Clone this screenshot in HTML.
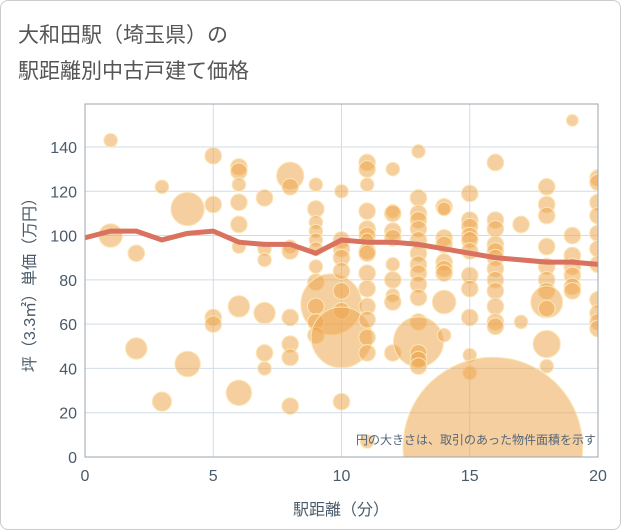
<!DOCTYPE html>
<html><head><meta charset="utf-8"><style>
html,body{margin:0;padding:0;background:#fff}
#wrap{position:relative;width:619px;height:528px;border:1px solid #ccc;border-radius:8px;overflow:hidden;font-family:"Liberation Sans","Noto Sans CJK JP",sans-serif}
</style></head><body>
<div id="wrap">
<svg id="chart" width="619" height="528" xmlns="http://www.w3.org/2000/svg">
<text x="17" y="41" font-size="21" fill="#555" font-family="Liberation Sans, Noto Sans CJK JP, sans-serif">大和田駅（埼玉県）の</text>
<text x="17" y="77" font-size="21" fill="#555" font-family="Liberation Sans, Noto Sans CJK JP, sans-serif">駅距離別中古戸建て価格</text>
<g id="grid"></g><g id="bubbles"></g><g id="trend"></g><g id="axes"></g>
<text x="595" y="443" font-size="12" fill="#556677" text-anchor="end" font-family="Liberation Sans, Noto Sans CJK JP, sans-serif">円の大きさは、取引のあった物件面積を示す</text>
<text x="340" y="514" font-size="16" fill="#4a5a6a" text-anchor="middle" font-family="Liberation Sans, Noto Sans CJK JP, sans-serif">駅距離（分）</text>
<text transform="translate(34,280) rotate(-90)" font-size="16" fill="#4a5a6a" text-anchor="middle" font-family="Liberation Sans, Noto Sans CJK JP, sans-serif">坪（3.3㎡）単価（万円）</text>
</svg></div>
<script>
const xTicks=[0,5,10,15,20];
const yTicks=[0,20,40,60,80,100,120,140];
const bubbleX=[1,1,2,2,3,3,4,4,5,5,5,5,6,6,6,6,6,6,6,6,7,7,7,7,7,7,8,8,8,8,8,8,8,8,9,9,9,9,9,9,9,9,9.6,9,9,9,10,10,10,10,10,10,10,10,10,11,
11,11,11,11,11,11,11,11,11,11,11,11,11,11,11,
12,12,12,12,12,12,12,12,12,12,
13,13,13,13,13,13,13,13,13,13,13,13,13,13,13,13,
14,14,14,14,14,14,14,14,14,
15,15,15,15,15,15,15,15,15,15,15,
16,16,16,16,16,16,16,16,16,16,16,16,15.9,
17,17,
18,18,18,18,18,18,18,18,18,18,18,
19,19,19,19,19,19,19,
20,20,20,20,20,20,20,20,20,20,20];
const bubbleY=[143,100,92,49,122,25,112,42,136,114,63,60,131,129,123,115,105,95,68,29,117,94,89,65,47,40,127,122,95,93,63,51,45,23,123,112,106,102,98,94,86,79,69,68,61,55,120,98,94,90,84,75,66,54,25,7,
133,130,123,111,103,100,98,93,83,76,68,62,54,47,92,
130,111,110,102,99,87,80,73,70,47,
138,117,110,107,103,98,92,87,83,78,72,61,52,47,44,41,
113,112,99,96,88,85,83,70,55,
119,107,104,100,98,93,82,76,63,46,38,
133,107,103,96,93,90,85,80,75,68,61,59,4.5,
105,61,
122,114,109,95,86,80,75,70,67,51,41,
152,100,91,86,82,77,75,
126,124,115,109,101,94,87,71,65,61,58];
const bubbleArea=[2,6,3,5,2,4,12,7,3,3,3,3,3,3,2,3,3,2,5,7,3,2,2,5,3,2,8,3,2,3,3,3,3,3,2,3,2,2,2,2,2,3,40,3,3,3,2,3,3,3,3,3,3,40,3,2,
3,3,2,3,3,3,2,3,3,3,3,3,3,3,3,
2,2,3,3,3,2,3,2,3,3,
2,3,3,3,3,3,3,3,3,3,3,3,27,3,3,3,
3,2,3,3,3,3,3,6,2,
3,3,3,3,3,3,3,3,3,2,2,
3,3,3,3,3,3,3,3,3,3,3,3,350,
3,2,
3,3,3,3,3,3,3,11,3,8,2,
1.5,3,3,3,3,3,3,
3,3,3,3,3,3,3,3,3,3,3];
const trendX=[0,1,2,3,4,5,6,7,8,9,10,11,12,13,14,15,16,17,18,19,20];
const trendY=[99,102,102,98,101,102,97,96,96,92,98,97,97,96,94,92,90,89,88,88,87];

const L=84,R=597,T=103,B=456;
const sx=v=>L+(v-0)/(20-0)*(R-L);
const sy=v=>B-(v-0)/(159.4-0)*(B-T);
const sr=a=>Math.sqrt(a)*4.8;
const NS="http://www.w3.org/2000/svg";
const svg=document.getElementById('chart');
const defs=document.createElementNS(NS,'defs');
defs.innerHTML='<clipPath id="plotclip"><rect x="'+L+'" y="'+T+'" width="'+(R-L)+'" height="'+(B-T)+'"/></clipPath>';
svg.insertBefore(defs,svg.firstChild);
const grid=document.getElementById('grid');
yTicks.forEach(t=>{
  const l=document.createElementNS(NS,'line');
  
  
  l.setAttribute('x1',L);l.setAttribute('x2',R);l.setAttribute('y1',sy(t));l.setAttribute('y2',sy(t));
  l.setAttribute('stroke','#d3dce6');l.setAttribute('stroke-width','1');grid.appendChild(l);
  const tx=document.createElementNS(NS,'text');
  
  
  tx.setAttribute('x',L-8);tx.setAttribute('y',sy(t)+6);tx.setAttribute('text-anchor','end');
  tx.setAttribute('font-size','16');tx.setAttribute('fill','#4a5a6a');tx.textContent=t;grid.appendChild(tx);
});
xTicks.forEach(t=>{
  const l=document.createElementNS(NS,'line');
  
  
  l.setAttribute('x1',sx(t));l.setAttribute('x2',sx(t));l.setAttribute('y1',T);l.setAttribute('y2',B);
  l.setAttribute('stroke','#d3dce6');l.setAttribute('stroke-width','1');grid.appendChild(l);
  const tx=document.createElementNS(NS,'text');
  
  
  tx.setAttribute('x',sx(t));tx.setAttribute('y',B+24);tx.setAttribute('text-anchor','middle');
  tx.setAttribute('font-size','16');tx.setAttribute('fill','#4a5a6a');tx.textContent=t;grid.appendChild(tx);
});
const bg=document.getElementById('bubbles');
bg.setAttribute('clip-path','url(#plotclip)');
bubbleX.forEach((x,i)=>{
  const c=document.createElementNS(NS,'circle');
  
  
  c.setAttribute('cx',sx(x));c.setAttribute('cy',sy(bubbleY[i]));c.setAttribute('r',sr(bubbleArea[i]));
  c.setAttribute('fill','rgba(236,168,80,0.55)');c.setAttribute('stroke','#fde6b4');c.setAttribute('stroke-width','1');
  bg.appendChild(c);
});
const tg=document.getElementById('trend');
const p=document.createElementNS(NS,'polyline');


p.setAttribute('points',trendX.map((x,i)=>sx(x)+','+sy(trendY[i])).join(' '));
p.setAttribute('fill','none');p.setAttribute('stroke','#d9725e');p.setAttribute('stroke-width','5');p.setAttribute('stroke-linejoin','round');
tg.appendChild(p);
const ax=document.getElementById('axes');
const fr=document.createElementNS(NS,'rect');


fr.setAttribute('x',L);fr.setAttribute('y',T);fr.setAttribute('width',R-L);fr.setAttribute('height',B-T);
fr.setAttribute('fill','none');fr.setAttribute('stroke','#9aa4ae');fr.setAttribute('stroke-width','1');
ax.appendChild(fr);
</script>
</body></html>
